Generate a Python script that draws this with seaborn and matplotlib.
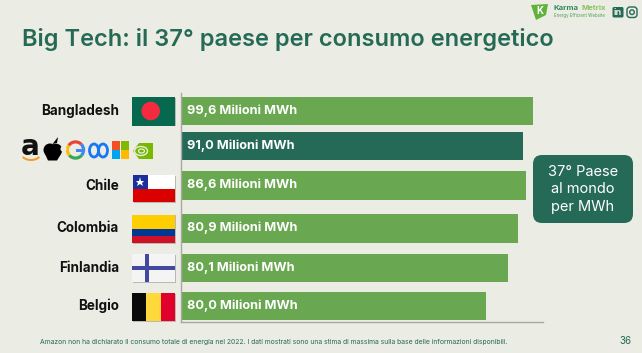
import numpy as np
import pandas as pd
import seaborn as sns
import matplotlib.pyplot as plt
from matplotlib.patches import Rectangle, Circle, FancyBboxPatch, Wedge, Polygon, Arc, Ellipse

# ---------- data ----------
countries = ['Bangladesh', '', 'Chile', 'Colombia', 'Finlandia', 'Belgio']
bar_labels = ['99,6 Milioni MWh', '91,0 Milioni MWh', '86,6 Milioni MWh',
              '80,9 Milioni MWh', '80,1 Milioni MWh', '80,0 Milioni MWh']
# lengths as drawn in the slide (they do not follow the printed labels)
bar_lengths = [99.6, 96.8, 97.6, 95.4, 92.5, 86.3]
groups = ['paese', 'big tech', 'paese', 'paese', 'paese', 'paese']

# ---------- layout (pixels of the slide) ----------
W, H = 642, 353
row_y = [111, 146, 185.5, 228.5, 268, 306]
BG = '#EBECE3'
GREEN = '#69A750'
DARK = '#256A56'
W_PER_UNIT = 352 / 99.6

sns.set_theme(style='white')
plt.rcParams['font.family'] = ['Inter', 'DejaVu Sans']

fig = plt.figure(figsize=(W / 100, H / 100), dpi=100, facecolor=BG)

# overlay in pixel coords for everything that is not a bar
bg = fig.add_axes([0, 0, 1, 1], zorder=0)
bg.set_xlim(0, W)
bg.set_ylim(H, 0)
bg.axis('off')

# ---------- bars ----------
AX_L, AX_R, AX_T, AX_B = 181, 543, 93, 321.5
ax = fig.add_axes([AX_L / W, 1 - AX_B / H, (AX_R - AX_L) / W, (AX_B - AX_T) / H],
                  zorder=1)
ax.patch.set_alpha(0)
df = pd.DataFrame({'y': row_y, 'x': bar_lengths, 'group': groups})
sns.barplot(data=df, x='x', y='y', hue='group', orient='h', native_scale=True,
            palette={'paese': GREEN, 'big tech': DARK}, width=0.81, dodge=False,
            saturation=1, edgecolor='none', linewidth=0, legend=False, ax=ax)
ax.set_xlim(0, (AX_R - AX_L) / W_PER_UNIT)
ax.set_ylim(AX_B, AX_T)
ax.set_xlabel('')
ax.set_ylabel('')
ax.set_xticks([])
ax.set_yticks([])
sns.despine(ax=ax, top=True, right=True)
ax.spines['left'].set_color('#A9A9A4')
ax.spines['bottom'].set_color('#A9A9A4')
ax.spines['left'].set_linewidth(1)
ax.spines['bottom'].set_linewidth(1)

for y, lab in zip(row_y, bar_labels):
    ax.text(6 / W_PER_UNIT, y - 0.5, lab, color='white', fontsize=9.2,
            fontweight='bold', va='center', ha='left')

# ---------- country names ----------
for y, name in zip(row_y, countries):
    if name:
        bg.text(119, y, name, ha='right', va='center', fontsize=9.7,
                fontweight='bold', color='#111111')


# ---------- flags ----------
def shadow(x, y, w, h):
    bg.add_patch(Rectangle((x + 0.6, y + 0.8), w, h, fc='#B9B9B2', ec='none', zorder=1))


def bands(x, y, w, h, colors, vertical=False, shares=None):
    shadow(x, y, w, h)
    shares = shares or [1 / len(colors)] * len(colors)
    pos = 0
    for c, s in zip(colors, shares):
        if vertical:
            bg.add_patch(Rectangle((x + pos * w, y), s * w, h, fc=c, ec='none', zorder=2))
        else:
            bg.add_patch(Rectangle((x, y + pos * h), w, s * h, fc=c, ec='none', zorder=2))
        pos += s


FX, FW = 132, 43
# Bangladesh
bands(FX, 97, FW, 28.5, ['#05684F'])
bg.add_patch(Circle((150.7, 111), 9.3, fc='#F42A41', ec='none', zorder=3))
# Chile
bands(133, 175, FW - 1, 27, ['#FFFFFF', '#DA0000'])
bg.add_patch(Rectangle((133, 175), 14.5, 13.5, fc='#1B2F9B', ec='none', zorder=3))
bg.plot([140.2], [181.7], marker='*', ms=6.5, color='white', mew=0, zorder=4)
# Colombia
bands(FX, 214.5, FW, 28.5, ['#FFCE00', '#003893', '#CE1126'], shares=[0.5, 0.25, 0.25])
# Finlandia
bands(FX, 254, FW, 28, ['#F4F4F4'])
bg.add_patch(Rectangle((FX, 266), FW, 4, fc='#45489F', ec='none', zorder=3))
bg.add_patch(Rectangle((145, 254), 4, 28, fc='#45489F', ec='none', zorder=3))
# Belgio
bands(FX, 293, FW, 28, ['#0A0A0A', '#FFD93B', '#E0002B'], vertical=True)

# ---------- big tech logos ----------
bg.text(30.5, 147, 'a', fontsize=20, fontweight='bold', color='#111111', ha='center', va='center',
        family='DejaVu Sans', zorder=3)
bg.add_patch(Arc((31, 153), 20, 14, theta1=25, theta2=155, lw=1.4, color='#F39A1F', zorder=3))
# apple
bg.add_patch(Circle((50, 150), 6.5, fc='black', ec='none', zorder=3))
bg.add_patch(Circle((56, 150), 6.3, fc='black', ec='none', zorder=3))
bg.add_patch(Polygon([[45, 154], [61, 154], [57, 160.5], [48, 160.5]], fc='black', ec='none', zorder=3))
bg.add_patch(Polygon([[52.5, 144], [58, 137], [57, 143]], fc='black', ec='none', zorder=3))
bg.add_patch(Circle((63.5, 149), 3, fc=BG, ec='none', zorder=4))
# google
for a, b, c in [(-45, 40, '#4285F4'), (40, 140, '#34A853'), (140, 215, '#FBBC05'), (215, 315, '#EA4335')]:
    bg.add_patch(Wedge((75.5, 150), 9.7, a, b, width=3.2, fc=c, ec='none', zorder=3))
bg.add_patch(Rectangle((76, 148.5), 9, 3, fc='#4285F4', ec='none', zorder=3))
# meta
for cx in (94, 103):
    bg.add_patch(Ellipse((cx, 150.5), 9, 13, fc='none', ec='#1877F2', lw=2, zorder=3))
# microsoft
for (dx, dy), c in zip([(0, 0), (9, 0), (0, 9), (9, 9)],
                       ['#F25022', '#7FBA00', '#00A4EF', '#FFB900']):
    bg.add_patch(Rectangle((112 + dx, 141 + dy), 8.2, 8.7, fc=c, ec='none', zorder=3))
# nvidia
bg.add_patch(Polygon([[139, 143], [153, 143], [153, 159], [139, 159], [133, 151]],
                     fc='#76B900', ec='none', zorder=3))
bg.add_patch(Ellipse((141, 151), 13, 9, fc='none', ec=BG, lw=1, zorder=4))
bg.add_patch(Ellipse((141.5, 151), 6, 4, fc='none', ec=BG, lw=0.9, zorder=4))

# ---------- title, box, footer ----------
bg.text(22, 39.5, 'Big Tech: il 37° paese per consumo energetico', fontsize=17,
        fontweight='semibold', color=DARK, ha='left', va='center')

bg.add_patch(FancyBboxPatch((533, 155), 100, 68, boxstyle='round,pad=0,rounding_size=9',
                            fc=DARK, ec='none', zorder=2))
for y, line in zip([172, 189, 207], ['37° Paese', 'al mondo', 'per MWh']):
    bg.text(583, y, line, fontsize=10.5, color='white', ha='center', va='center', zorder=3)

bg.text(40, 342, 'Amazon non ha dichiarato il consumo totale di energia nel 2022. '
        'I dati mostrati sono una stima di massima sulla base delle informazioni disponibili.',
        fontsize=4.9, color=DARK, ha='left', va='center')
bg.text(625.5, 340.5, '36', fontsize=7, color=DARK, ha='center', va='center')

# ---------- header logo ----------
bg.add_patch(Polygon([[531, 5], [548, 4], [546, 15], [536, 20]], fc='#5FB23B', ec='none', zorder=2))
bg.text(539.5, 11, 'K', fontsize=7, fontweight='bold', color='white', ha='center', va='center', zorder=3)
bg.text(554, 8, 'Karma', fontsize=5.6, fontweight='bold', color='#2E8B60', ha='left', va='center')
bg.text(581, 8, 'Metrix', fontsize=5.6, fontweight='bold', color='#8CC266', ha='left', va='center')
bg.text(554, 16, 'Energy Efficient Website', fontsize=3.1, color='#4FA05A', ha='left', va='center')
bg.add_patch(FancyBboxPatch((612.5, 7), 11, 10.5, boxstyle='round,pad=0,rounding_size=1.5', fc=DARK, ec='none'))
bg.text(618, 12.2, 'in', fontsize=6.5, fontweight='bold', color=BG, ha='center', va='center')
bg.add_patch(FancyBboxPatch((627, 7), 10, 10.5, boxstyle='round,pad=0,rounding_size=3', fc='none', ec=DARK, lw=1))
bg.add_patch(Circle((632, 12.2), 2.3, fc='none', ec=DARK, lw=1))

fig.savefig('out.png', dpi=100, facecolor=BG)
